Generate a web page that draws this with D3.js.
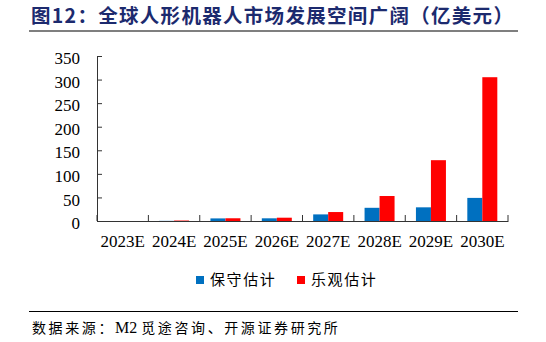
<!DOCTYPE html>
<meta charset="utf-8">
<style>
body, html {
  margin: 0;
  padding: 0;
  background: #fff;
}
.axis text {
  font: 17px "Liberation Serif", "Times New Roman", serif;
  fill: #000;
}
.axis path, .axis line {
  stroke: #333;
}
.cjk {
  font-family: "Noto Sans CJK SC", sans-serif;
}
</style>
<div id="chart"></div>
<script src="https://d3js.org/d3.v7.min.js"></script>
<script>
const width = 546
const height = 342

const categories = ["2023E", "2024E", "2025E", "2026E", "2027E", "2028E", "2029E", "2030E"]
const seriesNames = ["保守估计", "乐观估计"]
const conservative = [0, 0.3, 5.5, 5.7, 14, 28, 29, 49]
const optimistic = [0, 1, 5.8, 7, 19, 53, 129, 305]
const yTicks = [0, 50, 100, 150, 200, 250, 300, 350]
const colors = ["#0070C0", "#FF0000"]

let svg = d3.select("#chart")
            .append("svg")
            .attr("width", width)
            .attr("height", height)

// title + rules
svg.append("text")
   .attr("class", "cjk")
   .attr("x", 31)
   .attr("y", 23)
   .attr("fill", "#1c2a6e")
   .attr("font-size", 19.5)
   .attr("font-weight", "bold")
   .attr("letter-spacing", 1.3)
   .text("图12：全球人形机器人市场发展空间广阔（亿美元）")

svg.append("line")
   .attr("x1", 29).attr("x2", 518)
   .attr("y1", 31).attr("y2", 31)
   .attr("stroke", "#000").attr("stroke-width", 1.2)

svg.append("line")
   .attr("x1", 29).attr("x2", 518)
   .attr("y1", 311.5).attr("y2", 311.5)
   .attr("stroke", "#000").attr("stroke-width", 1.2)

var source = svg.append("text")
   .attr("class", "cjk")
   .attr("x", 32)
   .attr("y", 333)
   .attr("font-size", 14)
   .attr("fill", "#000")
source.append("tspan").attr("letter-spacing", 2.6).text("数据来源：")
source.append("tspan")
   .style("font-family", "'Liberation Serif', serif")
   .attr("font-size", 16)
   .text("M2 ")
source.append("tspan").attr("letter-spacing", 2.6).text("觅途咨询、开源证券研究所")

// scales
var x = d3.scaleBand()
    .domain(categories)
    .range([97, 508])
    .padding(0)

var y = d3.scaleLinear()
    .domain([0, 350])
    .range([221, 56])

var xInner = d3.scaleBand()
    .domain(seriesNames)
    .range([x.bandwidth() / 2 - 15, x.bandwidth() / 2 + 15])

var rows = categories.map(function(c, i) {
  return { cat: c, values: [conservative[i], optimistic[i]] }
})

// bars
var groups = svg.append("g")
  .selectAll("g")
  .data(rows)
  .enter().append("g")
    .attr("transform", function(d) { return "translate(" + x(d.cat) + ",0)" })

groups.selectAll("rect")
  .data(function(d) { return d.values.map(function(v, i) { return { name: seriesNames[i], v: v, i: i } }) })
  .enter().append("rect")
    .attr("x", function(d) { return xInner(d.name) })
    .attr("width", xInner.bandwidth())
    .attr("y", function(d) { return y(d.v) })
    .attr("height", function(d) { return y(0) - y(d.v) })
    .attr("fill", function(d) { return colors[d.i] })

// y axis, ticks pointing inward
svg.append("g")
   .attr("class", "axis")
   .attr("transform", "translate(97,0)")
   .call(d3.axisLeft(y).tickValues(yTicks).tickSize(-5).tickSizeOuter(0).tickPadding(17))
   .call(function(g) { g.selectAll("text").attr("dy", "0.45em") })

// x axis: labels, then boundary ticks
var xAxis = svg.append("g")
   .attr("class", "axis")
   .attr("transform", "translate(0,221)")
   .call(d3.axisBottom(x).tickSize(0).tickPadding(14))

xAxis.selectAll(".tick text").attr("dy", "0.71em")

var bounds = categories.map(function(c) { return x(c) }).concat([x.range()[1]])
xAxis.selectAll(".bound")
  .data(bounds)
  .enter().append("line")
    .attr("class", "bound")
    .attr("x1", function(d) { return d }).attr("x2", function(d) { return d })
    .attr("y1", 0).attr("y2", -6)

// legend
var legend = svg.append("g")
  .selectAll("g")
  .data(seriesNames)
  .enter().append("g")
    .attr("transform", function(d, i) { return "translate(" + (196 + i * 101) + ",276)" })

legend.append("rect")
  .attr("width", 8).attr("height", 8)
  .attr("fill", function(d, i) { return colors[i] })

legend.append("text")
  .attr("class", "cjk")
  .attr("x", 14)
  .attr("y", 9)
  .attr("font-size", 15)
  .attr("letter-spacing", 1.6)
  .attr("fill", "#000")
  .text(function(d) { return d })
</script>
